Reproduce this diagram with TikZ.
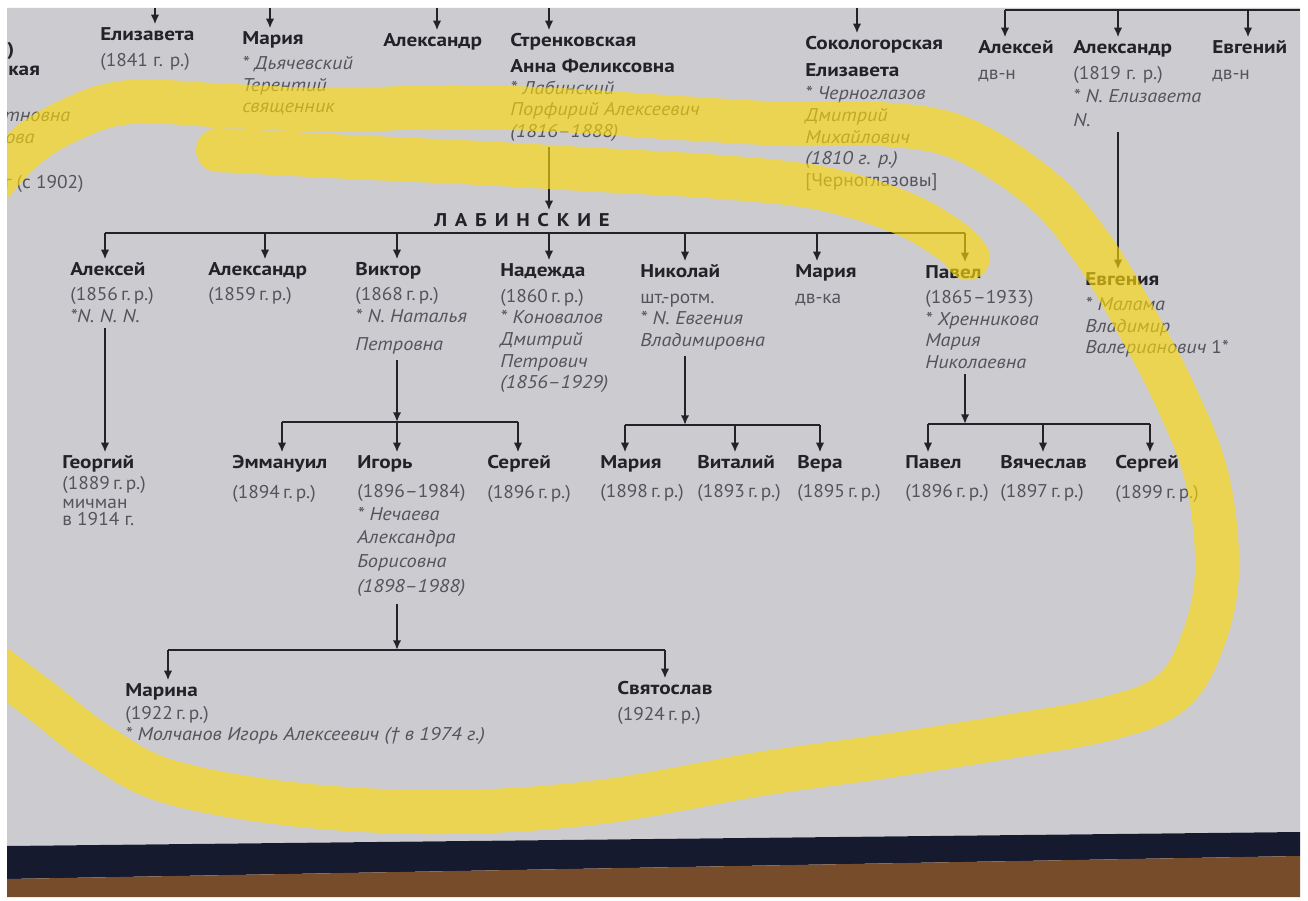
\documentclass[tikz,border=0pt]{standalone}
\usepackage{fontspec}
\setmainfont{PT Sans}[UprightFeatures={FakeStretch=1.05},
  BoldFeatures={FakeStretch=1.15}, ItalicFeatures={FakeStretch=1.1}]
\newfontfamily\labfont{PT Sans}[LetterSpace=42,FakeStretch=1.12]
\usetikzlibrary{arrows.meta, positioning}

\definecolor{page}{RGB}{204,204,208}
\definecolor{ink}{RGB}{34,34,40}
\definecolor{grey}{RGB}{84,84,92}
\definecolor{marker}{RGB}{252,218,10}
\definecolor{navy}{RGB}{22,26,46}
\definecolor{wood}{RGB}{118,76,42}

\newcommand{\nm}[1]{{\bfseries\color{ink}#1}}
\newcommand{\sps}[1]{{\itshape #1}}

\tikzset{
  pers/.style={anchor=north west, inner sep=0pt, align=left, text=grey,
    font=\fontsize{10.5}{12.3}\selectfont},
  link/.style={draw=ink, line width=1.15pt},
  arr/.style={link, -{Latex[length=5.5pt,width=4.8pt]}, shorten >=1.5pt},
}

\begin{document}
\begin{tikzpicture}[x=0.2mm, y=-0.2mm]
\useasboundingbox (0,0) rectangle (1308,901);
\fill[white] (0,0) rectangle (1308,901);

% page, binding and table
\fill[page] (7,8) -- (1300,8) -- (1300,832) -- (7,846) -- cycle;
\fill[navy] (7,846) -- (1300,832) -- (1300,856) -- (7,879) -- cycle;
\fill[wood] (7,879) -- (1300,856) -- (1300,897) -- (7,897) -- cycle;

\begin{scope}
\clip (7,8) -- (1300,8) -- (1300,832) -- (7,846) -- cycle;

% cut off on the left
\node[pers, anchor=base west] (frA) at (7,56) {\nm{)}};
\node[pers, anchor=base west] (frB) at (8,76) {\nm{кая}};
\node[pers, anchor=base west] (frC) at (4,122) {\sps{тновна}};
\node[pers, anchor=base west] (frD) at (5,144) {\sps{ова}};
\node[pers, anchor=base west] (frE) at (4,189) {г (с 1902)};

% top generation
\node[pers] (eliz) at (100,27) {\nm{Елизавета}\\[2.5pt](1841 г. р.)};
\node[pers] (mar0) at (242,31) {\nm{Мария}\\[2pt]\sps{* Дьячевский}\\\sps{Терентий}\\\sps{священник}};
\node[pers] (alx0) at (383,33) {\nm{Александр}};
\node[pers] (stren) at (510,33) {\nm{Стренковская}\\[2.5pt]\nm{Анна Феликсовна}\\\sps{* Лабинский}\\\sps{Порфирий Алексеевич}\\\sps{(1816–1888)}};
\node[pers] (sokol) at (805,36) {\nm{Сокологорская}\\[3pt]\nm{Елизавета}\\[1pt]\sps{* Черноглазов}\\\sps{Дмитрий}\\\sps{Михайлович}\\\sps{(1810 г. р.)}\\{[Черноглазовы]}};
\node[pers] (alk1) at (978,40) {\nm{Алексей}\\[2.5pt]дв-н};
\node[pers] (alx1) at (1073,40) {\nm{Александр}\\[2.5pt](1819 г. р.)\\[1pt]\sps{* N. Елизавета}\\[1pt]\sps{N.}};
\node[pers] (evg) at (1212,40) {\nm{Евгений}\\[2.5pt]дв-н};

\foreach \x/\n in {155/eliz, 270/mar0, 437/alx0, 549/stren, 857/sokol}{
  \path (\x,8) coordinate (c-\n);
  \draw[arr] (c-\n) -- (c-\n |- \n.north);
}
\coordinate (rEnd) at (1300,10);
\foreach \x/\n in {1005/alk1, 1118/alx1, 1248/evg}{
  \path (\x,10) coordinate (c-\n);
  \draw[arr] (c-\n) -- (c-\n |- \n.north);
}
\draw[link] (c-alk1) -- (rEnd);

% Labinskie
\node[inner sep=0pt, text=ink, font=\labfont\bfseries\fontsize{10.5}{12}\selectfont] (lab) at (522,220) {ЛАБИНСКИЕ};
\draw[arr, shorten <=3pt] (c-stren |- stren.south) -- (c-stren |- lab.north);

\node[pers] (lAlek) at (70,262) {\nm{Алексей}\\[2pt](1856\,г.\,р.)\\\sps{*N. N. N.}};
\node[pers] (lAlex) at (208,262) {\nm{Александр}\\[2pt](1859\,г.\,р.)};
\node[pers] (lVik) at (355,262) {\nm{Виктор}\\[2pt](1868\,г.\,р.)\\\sps{* N. Наталья}\\[4pt]\sps{Петровна}};
\node[pers] (lNad) at (500,263) {\nm{Надежда}\\[2.5pt](1860\,г.\,р.)\\\sps{* Коновалов}\\\sps{Дмитрий}\\\sps{Петрович}\\\sps{(1856–1929)}};
\node[pers] (lNik) at (640,264) {\nm{Николай}\\[2.5pt]шт.-ротм.\\\sps{* N. Евгения}\\\sps{Владимировна}};
\node[pers] (lMar) at (795,264) {\nm{Мария}\\[2.5pt]дв-ка};
\node[pers] (lPav) at (925,265) {\nm{Павел}\\[2pt](1865–1933)\\\sps{* Хренникова}\\\sps{Мария}\\\sps{Николаевна}};
\node[pers] (evgn) at (1085,272) {\nm{Евгения}\\[2pt]\sps{* Малама}\\\sps{Владимир}\\\sps{Валерианович} 1*};

\coordinate (labBar) at (0,233);
\foreach \x/\n in {105/lAlek, 265/lAlex, 397/lVik, 549/lNad, 685/lNik, 817/lMar, 965/lPav}{
  \path (\x,0) coordinate (c-\n);
  \draw[arr] (c-\n |- labBar) -- (c-\n |- \n.north);
}
\draw[link] (c-lAlek |- labBar) -- (c-lPav |- labBar);
\draw[arr, shorten <=3pt] (c-alx1 |- alx1.south) -- (c-alx1 |- evgn.north);

% grandchildren
\node[pers] (georg) at (62,455) {\nm{Георгий}\\[0pt](1889\,г.\,р.)\\[-2pt]мичман\\[-2.5pt]в 1914 г.};
\node[pers] (emm) at (232,455) {\nm{Эммануил}\\[4.5pt](1894\,г.\,р.)};
\node[pers] (igor) at (357,455) {\nm{Игорь}\\[4.5pt](1896–1984)\\[0.5pt]\sps{* Нечаева}\\[1pt]\sps{Александра}\\[1.5pt]\sps{Борисовна}\\[1.5pt]\sps{(1898–1988)}};
\node[pers] (serg1) at (487,455) {\nm{Сергей}\\[4.5pt](1896\,г.\,р.)};
\node[pers] (mar2) at (600,455) {\nm{Мария}\\[4.5pt](1898\,г.\,р.)};
\node[pers] (vit) at (697,455) {\nm{Виталий}\\[4.5pt](1893\,г.\,р.)};
\node[pers] (vera) at (797,455) {\nm{Вера}\\[4.5pt](1895\,г.\,р.)};
\node[pers] (pav2) at (905,455) {\nm{Павел}\\[4.5pt](1896\,г.\,р.)};
\node[pers] (vyach) at (1000,455) {\nm{Вячеслав}\\[4.5pt](1897\,г.\,р.)};
\node[pers] (serg2) at (1115,455) {\nm{Сергей}\\[4.5pt](1899\,г.\,р.)};

\draw[arr, shorten <=3pt] (c-lAlek |- lAlek.south) -- (c-lAlek |- georg.north);

\coordinate (vikBar) at (0,422);
\draw[arr, shorten <=3pt, shorten >=0pt] (c-lVik |- lVik.south) -- (c-lVik |- vikBar);
\foreach \x/\n in {282/emm, 397/igor, 518/serg1}{
  \path (\x,0) coordinate (c-\n);
  \draw[arr] (c-\n |- vikBar) -- (c-\n |- \n.north);
}
\draw[link] (c-emm |- vikBar) -- (c-serg1 |- vikBar);

\coordinate (nikBar) at (0,425);
\draw[arr, shorten <=3pt, shorten >=0pt] (c-lNik |- lNik.south) -- (c-lNik |- nikBar);
\foreach \x/\n in {625/mar2, 735/vit, 820/vera}{
  \path (\x,0) coordinate (c-\n);
  \draw[arr] (c-\n |- nikBar) -- (c-\n |- \n.north);
}
\draw[link] (c-mar2 |- nikBar) -- (c-vera |- nikBar);

\coordinate (pavBar) at (0,424);
\draw[arr, shorten <=3pt, shorten >=0pt] (c-lPav |- lPav.south) -- (c-lPav |- pavBar);
\foreach \x/\n in {928/pav2, 1043/vyach, 1150/serg2}{
  \path (\x,0) coordinate (c-\n);
  \draw[arr] (c-\n |- pavBar) -- (c-\n |- \n.north);
}
\draw[link] (c-pav2 |- pavBar) -- (c-serg2 |- pavBar);

% Igor's children
\node[pers] (marina) at (125,683) {\nm{Марина}\\[1pt](1922\,г.\,р.)\\[-0.5pt]\sps{* Молчанов Игорь Алексеевич († в 1974 г.)}};
\node[pers] (svyat) at (617,681) {\nm{Святослав}\\[2.5pt](1924\,г.\,р.)};

\coordinate (igBar) at (0,650);
\draw[arr, shorten <=4pt, shorten >=0pt] (c-igor |- igor.south) -- (c-igor |- igBar);
\foreach \x/\n in {168/marina, 665/svyat}{
  \path (\x,0) coordinate (c-\n);
  \draw[arr] (c-\n |- igBar) -- (c-\n |- \n.north);
}
\draw[link] (c-marina |- igBar) -- (c-svyat |- igBar);

% highlighter
\draw[marker, opacity=0.64, line width=0.88cm, line cap=round, line join=round]
  plot[smooth, tension=0.6] coordinates {(-30,210) (20,152) (70,120) (130,102) (230,106)
    (330,110) (450,107) (560,110) (680,118) (790,124) (880,124) (960,138) (1040,188)
    (1090,245) (1130,310) (1175,395) (1207,478) (1217,570) (1203,640) (1172,692)
    (1110,718) (1000,738) (880,757) (760,774) (600,802) (450,812) (300,805) (170,782)
    (100,746) (40,700) (-20,655)}
  plot[smooth, tension=0.6] coordinates {(218,150) (350,157) (480,163) (600,170)
    (720,177) (820,188) (900,212) (950,240) (968,258)};
\end{scope}
\end{tikzpicture}
\end{document}
